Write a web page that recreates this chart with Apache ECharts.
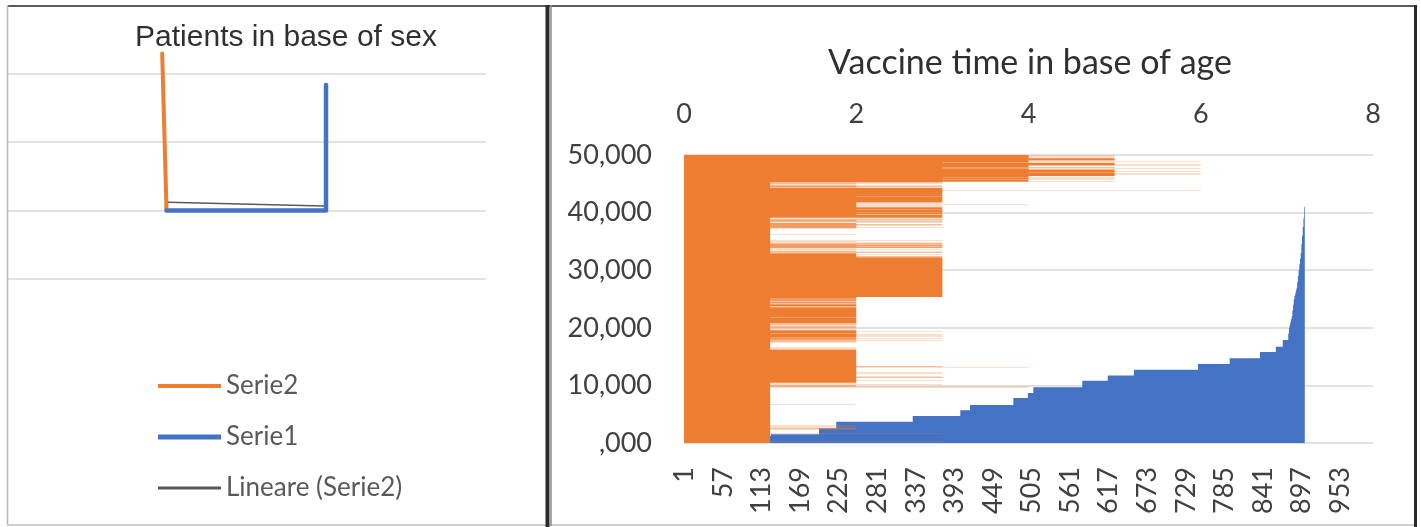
<!DOCTYPE html>
<html>
<head>
<meta charset="utf-8">
<script src="https://cdn.jsdelivr.net/npm/echarts@6/dist/echarts.min.js"></script>
<style>
html,body{margin:0;padding:0;background:#fff}
#c{width:1421px;height:527px}
</style>
</head>
<body>
<div id="c"></div>
<script>
// ---------- Left chart: Patients in base of sex ----------
const serie2Points = [[3.24, 2.29], [3.33, 0]];
const serie1Points = [[3.33, 0], [6.66, 0], [6.66, 1.83]];
const trendPoints  = [[3.36, 0.12], [6.62, 0.066]];

// ---------- Right chart: Vaccine time in base of age ----------
// category count of the bottom axis (labels 1, 57, 113 ... 953)
const ageCategoryCount = 1000;

// sorted age values as runs of [value, count]
const ageRuns = [
  [800, 40], [1200, 86], [1500, 70], [2550, 25], [3700, 111], [4700, 69],
  [5700, 14], [6600, 63], [7800, 21], [8700, 8], [9700, 71], [10800, 37],
  [11700, 38], [12700, 93], [13700, 46], [14700, 44], [15800, 23],
  [16700, 10], [17900, 8]
];
const ageTail = [19000, 20000, 20500, 21000, 21500, 22000, 23000, 24000, 25000,
  25500, 26000, 26500, 27000, 28000, 29000, 30000, 31000, 32000, 33000, 34500,
  36000, 37500, 39000, 41000];

// vaccine time per row, bottom to top, as runs of [value, count]
const vaccineRunsLow = [
  [1,5],[3,1],[1,28],[3,1],[1,10],
  [2,1],[1,3],[2,1],[1,3],[2,1],[1,3],[2,1],[1,3],[2,1],
  [1,70],[2,1],[1,61],[4,1],
  [1,2],[2,1],[1,2],[2,1],[1,2],[3,1],[1,2],[2,1],[1,2],
  [2,6],[3,1],[2,10],[3,1],[2,5],[3,1],[2,9],[3,1],[2,2],[3,1],[2,17],[4,1],[2,2],[3,1],[2,56],
  [1,2],[2,1],[1,2],[2,1],[1,2],[2,1],[1,1],
  [1,17],
  [2,1],[1,1],[2,2],[1,1],[3,1],[2,1],[1,1],[2,2],[1,1],[2,1],[3,1],[1,1],[2,2],[1,1],[2,1],
  [2,3],[3,1],[2,4],[3,1],[2,3],[1,1],[2,4],[3,1],[2,3],[1,1],[2,2],
  [1,2],[2,1],[1,1],[2,1],[1,2],[2,1],[1,2],[2,2],[1,1],[2,1],[1,2],[2,1],[1,2],[2,1],[1,1],[2,1],[1,2],
  [2,20],[1,1],[2,31],
  [2,3],[1,2],[2,2],[1,1],[2,6],[1,2],[2,5],[1,2],[2,3],[1,1],[2,4],[1,2],[2,6]
];
const vaccineRunsMid = [
  [3,138],
  [2,3],[3,1],[2,4],[3,1],[2,5],
  [1,2],[3,1],[1,2],[2,1],[1,1],[3,1],[1,2],[2,1],[1,2],[3,1],[1,2],[2,1],[1,1],
  [3,2],[1,1],[3,2],[2,1],[1,1],[3,2],[1,1],[3,1],[2,1],[1,1],[3,2],[1,1],[3,1],
  [1,2],[3,1],[1,2],[2,1],[1,2],[3,1],[1,2],
  [1,20],[2,1],[1,20],
  [2,2],[1,1],[3,1],[2,1],[1,1],[2,2],[3,1],[1,1],[2,2],[1,1],[3,1],[2,1],[1,1],[2,2],[3,1],[1,2],
  [3,2],[1,2],[3,1],[1,1],[2,1],[3,2],[1,2],[3,1],[1,2],[3,2],[1,1]
];
const vaccineRunsHigh = [
  [3,8],[2,1],[3,8],[2,1],[3,8],[2,1],[3,8],
  [2,2],[3,1],[2,2],[3,1],[2,2],[4,1],[2,2],[3,1],[2,2],[3,1],[2,2],
  [3,20],[2,1],[3,20],[6,1],[3,7],
  [2,1],[1,1],[3,1],[1,1],[2,1],[1,1],[3,1],[1,2],[2,1],[3,1],[1,1],[2,1],[1,1],[3,1],[1,2],[2,1],[1,1],[3,1],[1,1],
  [4,2],[3,1],[5,1],[4,2],[4,1],[4,1],[5,1],[3,1],[4,2],[5,1],[4,2],[3,1],[4,1],[5,1],[4,2],[4,1],
  [5,5],[6,1],[5,2],[6,1],[5,2],[4,1],[5,3],[6,1],[5,5],
  [4,2],[5,1],[3,1],[4,1],[6,1],[4,2],[3,1],[5,1],[4,2],[4,1],[4,1],[6,1],[4,1],[5,1],
  [5,3],[6,1],[5,3],
  [4,2],[3,1],[5,1],[4,2],[6,1],[4,1],[4,1],[5,1],
  [5,7],
  [4,2],[5,1],[4,2],[5,1],[4,2],[5,1],[4,2]
];

function expandRuns(runs) {
  const out = [];
  runs.forEach(([v, n]) => { for (let i = 0; i < n; i++) out.push(v); });
  return out;
}

const ageData = expandRuns(ageRuns).concat(ageTail);
const vaccineData = expandRuns(vaccineRunsLow.concat(vaccineRunsMid, vaccineRunsHigh));
const ageCategories = Array.from({length: ageCategoryCount}, (_, i) => String(i + 1));
const vaccineRows = vaccineData.map((_, i) => String(i + 1));

const ORANGE = '#ED7D31', BLUE = '#4472C4', GRID = '#d9d9d9';
const RFONT = 'Lato';

const chart = echarts.init(document.getElementById('c'));
chart.setOption({
  animation: false,
  backgroundColor: '#ffffff',
  title: [
    { text: 'Patients in base of sex', left: 281, top: 18, textAlign: 'center',
      textStyle: { fontFamily: 'Liberation Sans', fontSize: 30, fontWeight: 'normal', color: '#303030' } },
    { text: 'Vaccine time in base of age', left: 1025, top: 41, textAlign: 'center',
      textStyle: { fontFamily: RFONT, fontSize: 34, fontWeight: 'normal', color: '#303030' } }
  ],
  legend: [
    { data: ['Serie2'], left: 158, top: 373, padding: 0, icon: 'rect', itemWidth: 63, itemHeight: 4, selectedMode: false,
      textStyle: { fontFamily: RFONT, fontSize: 26, color: '#595959' } },
    { data: ['Serie1'], left: 158, top: 424, padding: 0, icon: 'rect', itemWidth: 63, itemHeight: 5, selectedMode: false,
      textStyle: { fontFamily: RFONT, fontSize: 26, color: '#595959' } },
    { data: ['Lineare (Serie2)'], left: 158, top: 475, padding: 0, icon: 'rect', itemWidth: 63, itemHeight: 3, selectedMode: false,
      textStyle: { fontFamily: RFONT, fontSize: 26, color: '#595959' } }
  ],
  grid: [
    { left: 7, right: 935, top: 46, height: 233 },
    { left: 684, right: 48, top: 155, height: 288 }
  ],
  xAxis: [
    { type: 'value', gridIndex: 0, min: 0, max: 10, show: false },
    { type: 'category', gridIndex: 1, data: ageCategories, position: 'bottom',
      axisLine: { show: false }, axisTick: { show: false },
      axisLabel: { interval: 55, rotate: 90, margin: 24, fontFamily: RFONT, fontSize: 27, color: '#404040' } },
    { type: 'value', gridIndex: 1, position: 'top', min: 0, max: 8, interval: 2,
      axisLine: { show: false }, axisTick: { show: false }, splitLine: { show: false },
      axisLabel: { margin: 27, fontFamily: RFONT, fontSize: 27, color: '#404040' } }
  ],
  yAxis: [
    { type: 'value', gridIndex: 0, min: -1, max: 2.4, interval: 1,
      axisLine: { show: false }, axisTick: { show: false }, axisLabel: { show: false },
      splitLine: { show: true, showMaxLine: false, lineStyle: { color: GRID, width: 1.5 } } },
    { type: 'value', gridIndex: 1, min: 0, max: 50000, interval: 10000, position: 'left',
      axisLine: { show: false }, axisTick: { show: false },
      splitLine: { lineStyle: { color: GRID, width: 1.5 } },
      axisLabel: { margin: 32, fontFamily: RFONT, fontSize: 27, color: '#404040',
        formatter: v => v === 0 ? ',000' : (v / 1000) + ',000' } },
    { type: 'category', gridIndex: 1, data: vaccineRows, position: 'right', show: false }
  ],
  series: [
    { name: 'Serie2', type: 'line', xAxisIndex: 0, yAxisIndex: 0, data: serie2Points,
      symbol: 'none', color: ORANGE, lineStyle: { width: 4, cap: 'round' } },
    { name: 'Serie1', type: 'line', xAxisIndex: 0, yAxisIndex: 0, data: serie1Points,
      symbol: 'none', color: BLUE, lineStyle: { width: 4.5, cap: 'round', join: 'round' } },
    { name: 'Lineare (Serie2)', type: 'line', xAxisIndex: 0, yAxisIndex: 0, data: trendPoints,
      symbol: 'none', color: '#595959', lineStyle: { width: 1.5 } },
    { name: 'Age', type: 'bar', xAxisIndex: 1, yAxisIndex: 1, data: ageData,
      large: true, largeThreshold: 10, barCategoryGap: '0%', barMinWidth: 0.01,
      itemStyle: { color: BLUE }, silent: true },
    { name: 'Vaccine time', type: 'bar', xAxisIndex: 2, yAxisIndex: 2, data: vaccineData,
      large: true, largeThreshold: 10, barCategoryGap: '0%', barMinWidth: 0.01,
      itemStyle: { color: ORANGE }, silent: true }
  ],
  graphic: [
    { type: 'line', shape: { x1: 7, y1: 6, x2: 1417, y2: 6 }, style: { stroke: '#5a5a5a', lineWidth: 2 }, z: 100 },
    { type: 'line', shape: { x1: 7.5, y1: 5, x2: 7.5, y2: 525 }, style: { stroke: '#b8b8b8', lineWidth: 1.5 }, z: 100 },
    { type: 'line', shape: { x1: 7, y1: 525, x2: 1417, y2: 525 }, style: { stroke: '#c0c0c0', lineWidth: 1.5 }, z: 100 },
    { type: 'line', shape: { x1: 547.5, y1: 5, x2: 547.5, y2: 527 }, style: { stroke: '#2a2a2a', lineWidth: 4 }, z: 100 },
    { type: 'line', shape: { x1: 551, y1: 5, x2: 551, y2: 526 }, style: { stroke: '#8a8a8a', lineWidth: 1.5 }, z: 100 },
    { type: 'line', shape: { x1: 1415.5, y1: 5, x2: 1415.5, y2: 527 }, style: { stroke: '#2a2a2a', lineWidth: 3 }, z: 100 }
  ]
});
</script>
</body>
</html>
